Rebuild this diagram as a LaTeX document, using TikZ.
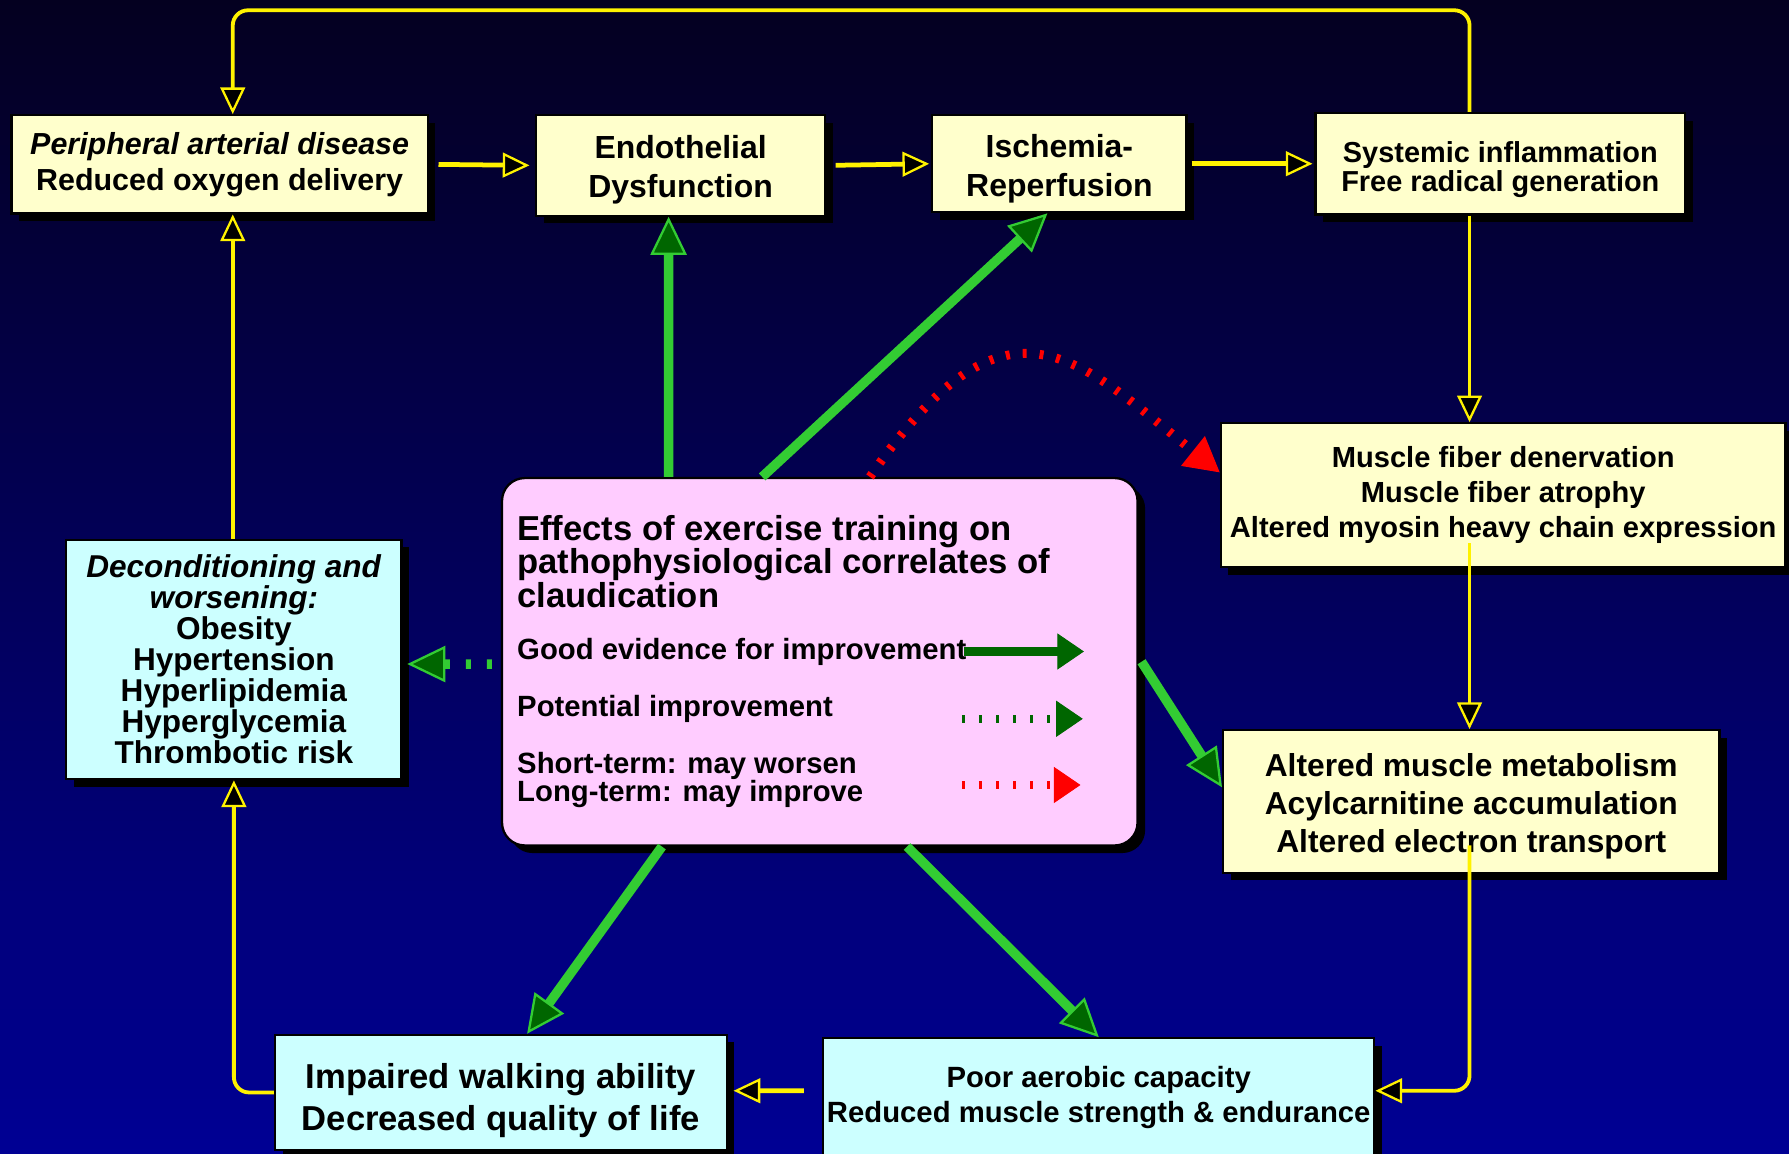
\documentclass[tikz,border=0pt]{standalone}
\usepackage{fontspec}
\setmainfont{Liberation Sans}
\usepackage{xcolor}
\usetikzlibrary{arrows.meta,positioning,calc,shadows}

\definecolor{bgtop}{RGB}{4,0,32}
\definecolor{bgbot}{RGB}{0,0,148}
\definecolor{boxyel}{RGB}{255,255,204}
\definecolor{boxcyan}{RGB}{204,255,255}
\definecolor{boxpink}{RGB}{255,204,255}
\definecolor{lgreen}{RGB}{51,204,51}
\definecolor{dgreen}{RGB}{0,102,0}
\newcommand{\boxfont}[2]{\bfseries\fontsize{#1}{#2}\selectfont}
\newcommand{\toppad}[1]{\rule{0pt}{#1}}

\begin{document}
\begin{tikzpicture}[x=0.6pt,y=-0.6pt,
    box/.style={draw=black,line width=1.2pt,align=center,inner sep=2pt,
      drop shadow={shadow xshift=4pt,shadow yshift=-4pt,fill=black,opacity=1}},
    ybox/.style={box,fill=boxyel},
    cbox/.style={box,fill=boxcyan},
    yarr/.style={draw=yellow,line width=2pt,
      -{Triangle[length=14pt 0,width=13pt 0,fill=black,line width=1.2pt 0]}},
    good/.style={draw=lgreen,line width=5pt,
      -{Triangle[length=20pt 0,width=19pt 0,fill=dgreen,line width=1.2pt 0]}},
    maybe/.style={good,dash pattern=on 2.6pt off 8.4pt},
    worse/.style={draw=red,line width=4.7pt,dash pattern=on 2.1pt off 6.8pt,
      -{Triangle[length=18pt 0,width=20pt 0,fill=red,line width=0.5pt 0]}},
    leg/.style={line width=5pt,-{Triangle[length=14pt 0,width=19pt 0,line width=0.5pt 0]}}]
  \useasboundingbox (0,0) rectangle (1568,1011);
  \shade[top color=bgtop,bottom color=bgbot] (0,0) rectangle (1568,1011);

  % boxes of the cycle
  \node[ybox,minimum width=219pt,minimum height=51.6pt,font=\boxfont{16}{19}] (pad) at (192.5,144)
    {\textit{Peripheral arterial disease}\\Reduced oxygen delivery};
  \node[ybox,minimum width=151.8pt,minimum height=52.8pt,font=\boxfont{16.8}{20.4}] (endo) at (596.5,145)
    {\toppad{17.1pt}Endothelial\\Dysfunction};
  \node[ybox,minimum width=133.8pt,minimum height=51pt,font=\boxfont{16.8}{20.4}] (isch) at (928.5,143.5)
    {\toppad{17.1pt}Ischemia-\\Reperfusion};
  \node[ybox,minimum width=194.4pt,minimum height=53.4pt,font=\boxfont{15.2}{15.4}] (sys) at (1315,143.5)
    {\toppad{17.1pt}Systemic inflammation\\Free radical generation};
  \node[ybox,minimum width=297pt,minimum height=75.6pt,font=\boxfont{15.3}{18.3}] (musc) at (1317.5,434)
    {Muscle fiber denervation\\Muscle fiber atrophy\\Altered myosin heavy chain expression};
  \node[ybox,minimum width=261pt,minimum height=75pt,font=\boxfont{16.7}{20}] (metab) at (1289.5,702.5)
    {\toppad{17pt}Altered muscle metabolism\\Acylcarnitine accumulation\\Altered electron transport};
  \node[cbox,minimum width=288pt,minimum height=62.4pt,font=\boxfont{15.4}{18.6}] (aero) at (963,962)
    {Poor aerobic capacity\\Reduced muscle strength \& endurance};
  \node[cbox,minimum width=237.6pt,minimum height=60.6pt,font=\boxfont{18.2}{21.6}] (walk) at (439,957.5)
    {\toppad{21.7pt}Impaired walking ability\\Decreased quality of life};
  \node[cbox,minimum width=176.4pt,minimum height=126pt,font=\boxfont{16.6}{16.3}] (decon) at (205,578)
    {\textit{Deconditioning and}\\\textit{worsening:}\\Obesity\\Hypertension\\Hyperlipidemia\\Hyperglycemia\\Thrombotic risk};

  % centre box with legend
  \node[box,fill=boxpink,rounded corners=12pt,minimum width=334.2pt,minimum height=193.2pt] (ctr) at (718.5,580) {};
  \node[anchor=west,align=left,inner sep=0pt,font=\boxfont{18.2}{17.7}] (ttl) at (453,492)
    {Effects of exercise training on\\pathophysiological correlates of\\claudication};
  \node[anchor=west,inner sep=0pt,font=\boxfont{15.4}{15}] (lgood) at (453,571) {Good evidence for improvement};
  \node[anchor=west,inner sep=0pt,font=\boxfont{15.4}{15}] (lpot) at (453,621) {Potential improvement};
  \node[anchor=west,align=left,inner sep=0pt,font=\boxfont{15.4}{15}] (lshort) at (453,683.5)
    {Short-term: may worsen\\Long-term: may improve};
  \coordinate (g1) at (845,571);
  \coordinate (g2) at (950,571);
  \coordinate (p1) at (843,630);
  \coordinate (p2) at (949,630);
  \coordinate (r1) at (843,688);
  \coordinate (r2) at (947,688);
  \draw[leg,draw=dgreen] (g1) -- (g2);
  \draw[leg,draw=dgreen,line width=4.2pt,dash pattern=on 1.5pt off 7.5pt] (p1) -- (p2);
  \draw[leg,draw=red,line width=4.2pt,dash pattern=on 1.5pt off 7.5pt] (r1) -- (r2);

  % yellow cycle
  \coordinate (colL) at (204,0);
  \coordinate (colR) at (1288,0);
  \coordinate (topY) at (700,9);
  \draw[yarr,rounded corners=8pt] (sys.north -| colR) |- (topY) -| (pad.north -| colL);
  \draw[yarr,line width=2.5pt,shorten <=5pt,shorten >=3pt] (pad.east) -- (endo.west);
  \draw[yarr,line width=2.5pt,shorten <=5pt,shorten >=1pt] (endo.east) -- (isch.west);
  \draw[yarr,line width=2.5pt,shorten <=2pt,shorten >=1pt] (isch.east) -- (sys.west);
  \draw[yarr] (sys.south -| colR) -- (musc.north -| colR);
  \draw[yarr,shorten <=-13pt] (musc.south -| colR) -- (metab.north -| colR);
  \draw[yarr,rounded corners=8pt,shorten <=-15pt] (metab.south -| colR) |- ([yshift=3.6pt]aero.east);
  \draw[yarr,line width=2.5pt,shorten <=9.6pt,shorten >=3pt] ([yshift=3.6pt]aero.west) -- ([yshift=0.9pt]walk.east);
  \draw[yarr,rounded corners=8pt] (walk.west) -| (decon.south);
  \draw[yarr] (decon.north -| colL) -- (pad.south -| colL);

  % effects of training
  \draw[good] ([xshift=-79.5pt]ctr.north) -- ([xshift=-6.3pt]endo.south);
  \draw[good] ([xshift=-30.3pt]ctr.north) -- ([xshift=-6.3pt]isch.south);
  \draw[good] ([xshift=1.5pt]ctr.east) -- ([yshift=7.5pt]metab.west);
  \draw[good] ([xshift=-83pt]ctr.south) -- ([xshift=13.8pt]walk.north);
  \draw[good] ([xshift=45.9pt]ctr.south) -- (aero.north);
  \draw[maybe] ([xshift=-4.8pt,yshift=-1.2pt]ctr.west) -- ([xshift=2.4pt,yshift=-2.4pt]decon.east);
  \draw[worse] ($(ctr.north)+(44,0)$) .. controls +(120,-175) and +(-125,-100) .. ($(musc.west)+(0,-20)$);
\end{tikzpicture}
\end{document}
